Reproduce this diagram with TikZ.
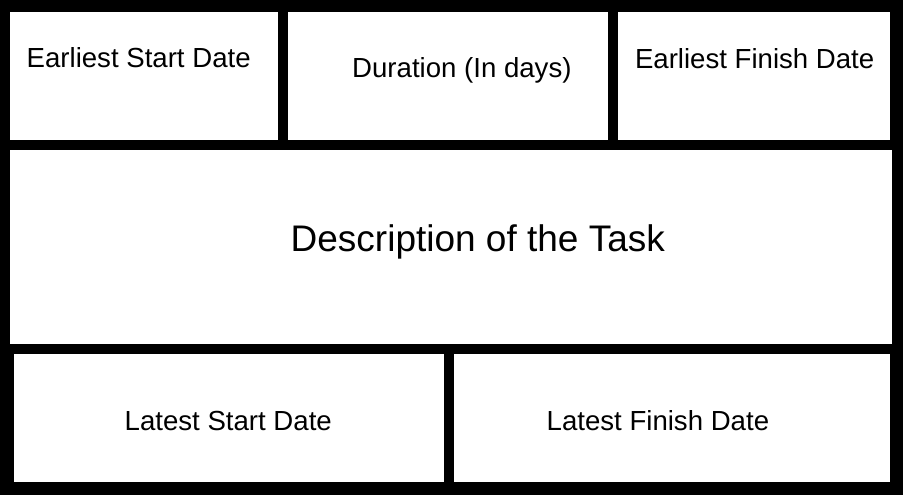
\documentclass[tikz,border=0pt]{standalone}
\usepackage{fontspec}
\setmainfont{Liberation Sans}
\begin{document}
\begin{tikzpicture}[x=1pt,y=-1pt,
  cell/.style={fill=white,draw=none,inner sep=0pt,outer sep=0pt},
  small/.style={inner sep=0pt,anchor=base west,font=\fontsize{27.6}{32}\selectfont},
  big/.style={inner sep=0pt,anchor=base west,font=\fontsize{37}{42}\selectfont}]
\fill[black] (0,0) rectangle (903,495);
\useasboundingbox (0,0) rectangle (903,495);
% cells
\node[cell,minimum width=268pt,minimum height=128pt] (esd)  at (144,76) {};
\node[cell,minimum width=320pt,minimum height=128pt] (dur)  at (448,76) {};
\node[cell,minimum width=272pt,minimum height=128pt] (efd)  at (754,76) {};
\node[cell,minimum width=882pt,minimum height=194pt] (desc) at (451,247) {};
\node[cell,minimum width=430pt,minimum height=128pt] (lsd)  at (229,418) {};
\node[cell,minimum width=436pt,minimum height=128pt] (lfd)  at (672,418) {};
% texts
\node[small] (tesd)  at (26.5,67.7)  {Earliest Start Date};
\node[small] (tdur)  at (352,77.7)   {Duration (In days)};
\node[small] (tefd)  at (634.8,68.3) {Earliest Finish Date};
\node[big]   (tdesc) at (290.5,251)  {Description of the Task};
\node[small] (tlsd)  at (124.5,430)  {Latest Start Date};
\node[small] (tlfd)  at (546.5,430)  {Latest Finish Date};
\end{tikzpicture}
\end{document}
